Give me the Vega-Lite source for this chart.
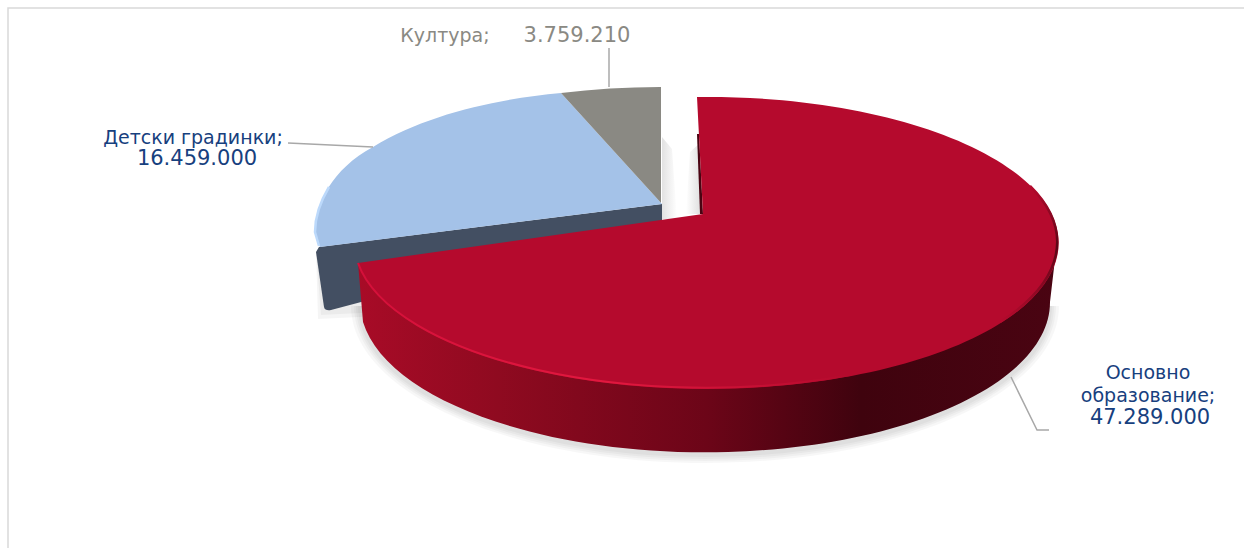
{"$schema":"https://vega.github.io/schema/vega-lite/v6.json","width":1244,"height":548,"padding":0,"autosize":{"type":"none"},"background":"white","config":{"view":{"stroke":null}},
"data":{"values":[
{"category":"Основно образование","label":"Основно\nобразование;","value":47289000,"valueLabel":"47.289.000"},
{"category":"Детски градинки","label":"Детски градинки;","value":16459000,"valueLabel":"16.459.000"},
{"category":"Култура","label":"Култура;","value":3759210,"valueLabel":"3.759.210"}]},
"resolve":{"scale":{"x":"independent","y":"independent","color":"independent","shape":"independent"}},
"layer":[
{"transform":[{"filter":"datum.value>40000000"}],"mark":{"type":"point","filled":false,"opacity":1,"size":4,"stroke":"#d9d9d9","strokeWidth":1.5,"shape":"M-614,274L-614,-266L622,-266"}},
{"transform":[{"filter":"datum.value>40000000"}],"mark":{"type":"point","filled":true,"opacity":1,"size":4,"fill":"#000","fillOpacity":0.03,"shape":"M-271,32A354 157 0 0 0 437,32Z"}},
{"transform":[{"filter":"datum.value>40000000"}],"mark":{"type":"point","filled":true,"opacity":1,"size":4,"fill":"#000","fillOpacity":0.03,"shape":"M-268,32A351 155 0 0 0 434,32Z"}},
{"transform":[{"filter":"datum.value>40000000"}],"mark":{"type":"point","filled":true,"opacity":1,"size":4,"fill":"#000","fillOpacity":0.03,"shape":"M-266,32A349 153 0 0 0 432,32Z"}},
{"transform":[{"filter":"datum.value>40000000"}],"mark":{"type":"point","filled":true,"opacity":1,"size":4,"fill":"#000","fillOpacity":0.03,"shape":"M-264,32A347 151 0 0 0 430,32Z"}},
{"transform":[{"filter":"datum.value<5000000"}],"mark":{"type":"point","filled":true,"opacity":1,"size":4,"fill":{"gradient":"linear","x1":0,"y1":0,"x2":1,"y2":0,"stops":[{"offset":0,"color":"#e2e2e2"},{"offset":1,"color":"#ffffff"}]},"shape":"M40,-137L50,-125L55,-55L40,-55Z"}},
{"transform":[{"filter":"datum.value<5000000"}],"mark":{"type":"point","filled":true,"opacity":1,"size":4,"fill":{"gradient":"linear","x1":0,"y1":0,"x2":1,"y2":0,"stops":[{"offset":0,"color":"#ffffff"},{"offset":1,"color":"#dedede"}]},"shape":"M64,-60L68,-122L77,-130L79,-60Z"}},
{"transform":[{"filter":"datum.value>10000000 && datum.value<20000000"}],"mark":{"type":"point","filled":true,"opacity":1,"size":4,"fill":"#000","fillOpacity":0.04,"shape":"M-306,-22L-304,45L-240,42Z"}},
{"transform":[{"filter":"datum.value>10000000 && datum.value<20000000"}],"mark":{"type":"point","filled":true,"opacity":1,"size":4,"fill":"#000","fillOpacity":0.04,"shape":"M-306,-22L-301,41L-240,38Z"}},
{"transform":[{"filter":"datum.value>10000000 && datum.value<20000000"}],"mark":{"type":"point","filled":true,"opacity":1,"size":4,"fill":"#434f62","shape":"M40,-70L-303,-27L-306,-22L-298,33Q-297,37 -291,36L40,-52Z"}},
{"transform":[{"filter":"datum.value>40000000"}],"mark":{"type":"point","filled":true,"opacity":1,"size":4,"fill":"#4a0412","shape":"M75,-140L78,-60L81,-60L77,-140Z"}},
{"transform":[{"filter":"datum.value>40000000"}],"mark":{"type":"point","filled":true,"opacity":1,"size":4,"fill":{"gradient":"linear","x1":0,"y1":0,"x2":1,"y2":0,"stops":[{"offset":0,"color":"#a80b27"},{"offset":0.2,"color":"#8f0a20"},{"offset":0.5,"color":"#6c0518"},{"offset":0.72,"color":"#3f030e"},{"offset":1,"color":"#4a0412"}]},"shape":"M-264,-11A352 146 0 0 0 435,-32L428,28A345 150 0 0 1 -259,48Z"}},
{"mark":{"type":"point","filled":true,"opacity":1,"size":4},"encoding":{
"shape":{"field":"category","type":"nominal","legend":null,"scale":{"domain":["Основно образование","Детски градинки","Култура"],"range":["M75,-177A352 146 0 1 1 -264,-11L81,-60Z","M-61,-181C-125,-175 -195,-160 -249,-127C-290,-105 -307,-70 -307,-42L-302,-27L40,-70Z","M-61,-181A347 145 0 0 1 39,-187L39,-71L40,-70Z"]}},
"color":{"field":"category","type":"nominal","legend":null,"scale":{"domain":["Основно образование","Детски градинки","Култура"],"range":["#b50a2d","#a4c2e8","#8a8983"]}}}},
{"transform":[{"filter":"datum.value>40000000"}],"mark":{"type":"point","filled":false,"opacity":1,"size":4,"strokeWidth":2,"stroke":{"gradient":"linear","x1":0,"y1":0,"x2":1,"y2":0,"stops":[{"offset":0,"color":"#d4103a"},{"offset":0.5,"color":"#e2183f"},{"offset":1,"color":"#b50a2d"}]},"shape":"M-264,-11A352 146 0 0 0 228,101"}},
{"transform":[{"filter":"datum.value>40000000"}],"mark":{"type":"point","filled":false,"opacity":1,"size":4,"strokeWidth":2.5,"stroke":{"gradient":"linear","x1":0,"y1":0,"x2":0,"y2":1,"stops":[{"offset":0,"color":"#b50a2d"},{"offset":0.45,"color":"#5a0616"},{"offset":1,"color":"#b50a2d"}]},"shape":"M408,-88A352 146 0 0 1 378,48"}},
{"transform":[{"filter":"datum.value>10000000 && datum.value<20000000"}],"mark":{"type":"point","filled":false,"opacity":1,"size":4,"strokeWidth":2.5,"stroke":"#bcd9fb","shape":"M-293,-87C-302,-72 -307,-55 -307,-42L-303,-28"}},
{"mark":{"type":"point","filled":false,"opacity":1,"size":4,"strokeWidth":1.5,"stroke":"#a8a8a8"},"encoding":{"shape":{"field":"category","type":"nominal","legend":null,"scale":{"domain":["Основно образование","Детски градинки","Култура"],"range":["M389,103L415,156L427,156","M-334,-131L-249,-127","M-13,-226L-13,-187"]}}}},
{"mark":{"type":"text","font":"DejaVu Sans","fontSize":19,"lineBreak":"\n","lineHeight":23,"align":"center","baseline":"middle"},"encoding":{
"text":{"field":"label"},
"x":{"field":"value","type":"quantitative","axis":null,"scale":{"domain":[3759210,16459000,47289000],"range":[445,193,1148],"zero":false,"nice":false}},
"y":{"field":"value","type":"quantitative","axis":null,"scale":{"domain":[3759210,16459000,47289000],"range":[36,138,373],"zero":false,"nice":false}},
"color":{"field":"category","type":"nominal","legend":null,"scale":{"domain":["Основно образование","Детски градинки","Култура"],"range":["#17407e","#17407e","#8a8983"]}}}},
{"mark":{"type":"text","font":"DejaVu Sans","fontSize":21,"align":"center","baseline":"middle"},"encoding":{
"text":{"field":"valueLabel"},
"x":{"field":"value","type":"quantitative","axis":null,"scale":{"domain":[3759210,16459000,47289000],"range":[577,197,1150],"zero":false,"nice":false}},
"y":{"field":"value","type":"quantitative","axis":null,"scale":{"domain":[3759210,16459000,47289000],"range":[36,159,418],"zero":false,"nice":false}},
"color":{"field":"category","type":"nominal","legend":null,"scale":{"domain":["Основно образование","Детски градинки","Култура"],"range":["#17407e","#17407e","#8a8983"]}}}}
]}
